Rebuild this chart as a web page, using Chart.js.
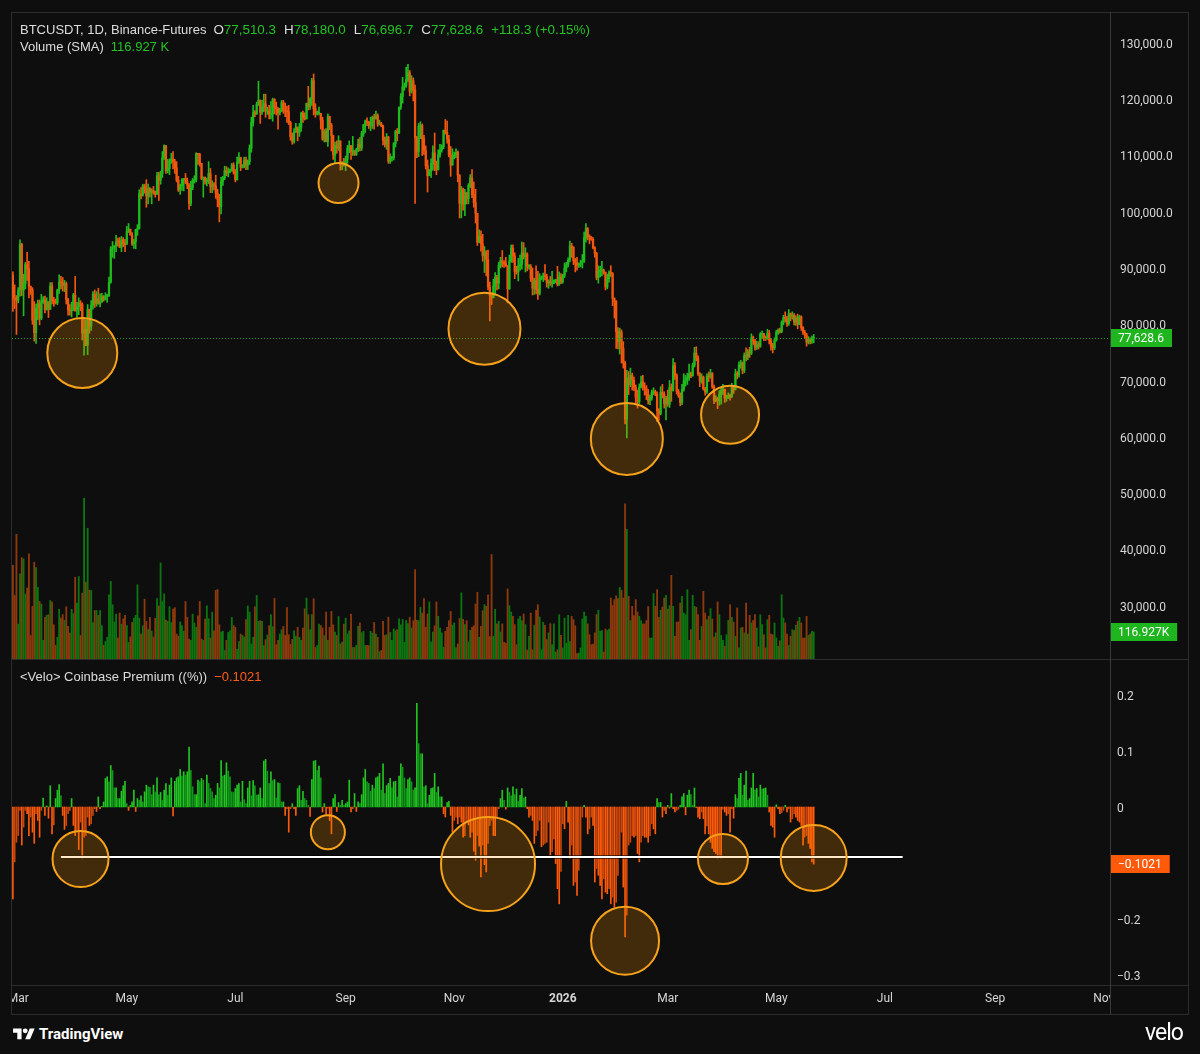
<!DOCTYPE html>
<html><head><meta charset="utf-8">
<script src="https://cdn.jsdelivr.net/npm/chart.js@4.4.1/dist/chart.umd.min.js"></script>
<style>
html,body{margin:0;padding:0;background:#0e0e0e;width:1200px;height:1054px;overflow:hidden;font-family:Roboto,"Liberation Sans",sans-serif;}
canvas{position:absolute;left:0;}
#top{top:0;}
#bot{top:660px;}
.ln{position:absolute;background:#2c2c2c;}
.txt{position:absolute;white-space:nowrap;color:#dcdcdc;font-size:13px;font-family:"Liberation Sans",Roboto,sans-serif;line-height:16px;}
.v{font-size:13.4px;}
.g{color:#22c322;}
.o{color:#ff5d1a;}
.sp{display:inline-block;width:8px;}
.sp0{display:inline-block;width:7px;}
</style></head><body>
<canvas id="top" width="1200" height="660"></canvas>
<canvas id="bot" width="1200" height="354"></canvas>
<div class="ln" style="left:0;top:0;width:11px;height:1054px;background:#0e0e0e"></div>
<div class="ln" style="left:11px;top:12px;width:1px;height:1003px"></div>
<div class="ln" style="left:11px;top:12px;width:1178px;height:1px"></div>
<div class="ln" style="left:11px;top:659px;width:1178px;height:1px"></div>
<div class="ln" style="left:11px;top:985px;width:1178px;height:1px"></div>
<div class="ln" style="left:11px;top:1014px;width:1178px;height:1px"></div>
<div class="ln" style="left:1111px;top:986px;width:78px;height:28px;background:#0e0e0e"></div>
<div class="ln" style="left:1110px;top:12px;width:1px;height:1003px;background:#3a3a3a"></div>
<div class="ln" style="left:1188px;top:12px;width:1px;height:1003px"></div>
<div class="txt" style="left:20px;top:22px"><span>BTCUSDT, 1D, Binance-Futures</span><span class="sp0"></span><span class="v" id="ohlc"></span></div>
<div class="txt" style="left:20px;top:39px">Volume (SMA)<span class="sp0"></span><span class="g" id="volv"></span></div>
<div class="txt" style="left:20px;top:669px">&lt;Velo&gt; Coinbase Premium ((%))<span class="sp0"></span><span class="o" id="premv"></span></div>
<div style="position:absolute;left:13px;top:1025px;display:flex;align-items:center;color:#fff;font:bold 15px Roboto,'Liberation Sans',sans-serif;">
<svg width="22" height="17" viewBox="0 0 36 28" style="margin-right:4px"><path d="M14 22H7V11H0V4h14v18zM28 22h-8l7.5-18h8L28 22z" fill="#fff"/><circle cx="20" cy="8" r="4" fill="#fff"/></svg>TradingView</div>
<div style="position:absolute;left:1145px;top:1019px;color:#fff;font:23px Roboto,'Liberation Sans',sans-serif;letter-spacing:-1px;">velo</div>
<script>
// ===== DATA =====
const startDate = '2025-02-26';      // first candle
const endAxisDate = '2026-11-04';    // last slot on the time axis
const monthNames = ['Jan','Feb','Mar','Apr','May','Jun','Jul','Aug','Sep','Oct','Nov','Dec'];
const firstOpen = 88.7;              // open of first candle (k USDT)

// daily closes (thousands of USDT)
const closes = [
84.7,84.4,84.3,
86.0,94.2,86.1,87.2,90.6,89.9,86.7,86.1,80.7,78.5,82.9,83.7,81.1,84.0,84.3,82.6,84.0,82.7,86.8,84.2,84.0,83.8,86.1,87.5,87.4,86.9,87.2,84.4,82.6,82.4,82.5,
85.2,82.5,83.1,83.8,83.5,78.4,79.1,76.3,82.6,79.6,83.4,85.3,83.7,84.5,83.6,84.0,84.9,84.4,85.0,85.0,87.5,93.4,93.7,93.9,94.7,94.6,93.7,95.0,94.3,94.2,
96.5,96.9,95.9,94.3,94.7,96.8,97.0,103.2,102.9,104.6,104.1,102.8,104.1,103.5,103.7,103.5,103.1,106.4,105.6,106.8,109.6,111.7,107.3,107.7,109.0,109.4,108.9,107.8,105.6,103.9,104.6,
105.7,105.9,105.4,104.7,101.5,104.3,105.6,105.7,110.3,110.2,108.6,105.9,106.0,105.4,105.5,106.8,104.5,104.8,104.6,103.3,102.2,100.9,105.4,106.0,107.3,106.9,107.1,107.3,108.3,107.1,
105.7,108.8,109.6,107.9,108.2,109.2,108.3,108.9,111.3,115.9,117.6,117.4,119.1,119.8,117.7,118.6,119.2,117.9,117.9,117.3,117.4,120.0,118.7,118.3,117.6,117.9,119.4,118.0,117.9,117.8,115.8,
113.3,112.5,114.2,115.0,114.1,115.0,117.5,116.6,116.5,119.3,118.7,120.1,123.3,118.3,117.4,117.5,117.5,116.3,112.9,114.3,112.5,116.9,115.4,113.5,110.1,111.8,111.3,112.6,108.4,108.8,108.3,
109.3,111.3,111.7,110.7,110.7,110.2,111.1,112.0,111.4,113.9,115.5,116.1,115.9,115.3,115.4,116.8,116.5,117.1,115.6,115.7,115.3,112.7,112.0,113.3,109.0,109.6,109.6,112.1,114.3,114.0,
118.6,120.5,122.2,122.4,123.5,124.7,121.4,123.3,121.7,113.2,110.7,115.2,115.3,113.0,110.8,108.2,106.4,107.2,108.6,110.5,108.4,107.5,110.1,111.0,111.6,114.5,114.1,112.9,110.1,108.3,109.6,
110.1,110.6,106.5,101.5,103.9,101.3,103.4,102.3,104.7,106.0,103.0,101.6,99.7,94.6,95.6,94.3,92.2,92.9,91.5,86.6,85.1,84.7,86.8,88.3,87.3,90.5,91.3,90.9,90.8,90.4,
86.3,91.3,93.5,92.1,89.4,89.3,90.4,90.6,92.7,92.0,92.5,90.3,90.3,88.2,86.4,87.8,86.2,85.5,88.2,88.3,88.6,88.5,87.4,87.6,87.3,87.3,87.8,87.8,87.1,88.4,87.6,
88.7,90.0,90.6,91.4,93.9,93.7,91.3,90.9,90.5,90.6,90.9,91.2,95.4,97.0,95.6,95.5,95.1,93.6,92.6,88.3,89.4,89.5,89.6,89.2,86.6,88.1,89.2,89.0,84.6,84.1,78.7,
76.9,78.6,75.7,73.1,63.1,70.5,69.3,70.9,70.1,68.8,67.0,66.2,68.8,69.8,68.8,68.6,67.5,66.4,66.9,67.9,68.0,67.6,64.6,64.1,67.9,67.5,65.9,66.9,
65.8,68.8,68.3,72.6,70.9,68.1,67.3,66.1,68.4,69.9,70.2,70.5,71.2,70.8,72.7,74.9,74.0,71.2,69.9,70.6,68.5,68.0,70.8,70.6,71.3,68.9,66.4,66.8,66.4,67.6,68.2,
68.4,66.9,66.9,67.3,67.1,68.8,68.4,71.2,71.0,72.8,73.1,71.8,74.4,74.2,75.1,74.9,77.6,77.0,75.9,76.4,76.1,78.2,78.3,77.6,77.5,78.4,77.1,76.1,75.8,77.2,
78.6,78.9,78.7,80.3,81.2,81.0,80.1,81.9,81.3,81.6,80.4,81.1,80.0,81.3,79.4,78.6,78.1,76.8,77.2,77.0,77.5103,77.6286
];
const highs = [
89.3,87.0,85.1,
86.5,95.0,94.4,88.9,91.0,92.8,91.2,86.8,86.5,84.0,83.6,84.3,84.3,85.3,84.9,85.0,84.7,84.0,87.4,87.4,84.8,84.5,86.2,88.8,88.5,88.3,87.8,87.5,84.6,83.5,83.9,
85.5,88.5,83.9,84.7,84.2,83.8,81.2,80.8,83.5,82.7,84.2,85.8,86.1,85.8,86.4,85.4,85.5,85.1,85.6,85.3,88.4,93.8,94.7,94.0,95.8,95.3,95.4,95.6,95.4,95.1,
97.4,97.9,96.9,96.3,95.1,96.9,97.7,103.9,104.3,104.9,104.9,105.7,104.9,104.3,104.1,104.5,103.7,107.0,107.0,107.2,110.7,111.9,111.8,109.3,109.4,110.4,110.7,109.3,108.9,106.3,104.9,
105.9,105.9,106.8,106.0,105.0,105.4,105.9,106.4,110.5,110.4,110.4,108.6,106.2,106.2,106.0,108.9,107.7,105.5,105.2,106.5,104.0,103.1,106.1,106.3,108.1,108.0,107.8,107.6,108.6,108.7,
107.5,109.7,110.5,109.7,108.4,109.7,109.7,109.2,111.9,116.8,118.9,118.0,119.5,123.2,119.9,119.8,120.9,120.9,118.6,118.9,119.6,120.2,120.1,119.5,118.5,118.4,119.8,119.8,119.3,118.8,118.9,
116.1,114.0,114.8,115.7,115.1,115.7,117.7,117.9,117.6,119.3,122.3,120.3,123.7,124.5,119.2,117.9,118.6,117.5,116.8,114.6,114.8,117.4,117.0,115.7,113.6,112.4,112.6,113.5,112.6,108.9,109.5,
109.9,111.8,112.6,111.8,113.4,110.9,111.3,112.9,113.2,114.3,115.5,116.3,116.7,116.1,116.8,117.0,117.3,117.9,117.4,116.3,115.9,115.4,113.3,113.9,113.4,110.3,109.8,112.3,114.5,114.8,
118.6,121.0,123.9,122.9,125.7,126.2,125.1,124.2,123.8,122.5,113.4,115.7,116.0,115.6,113.6,111.7,109.2,107.5,109.4,111.7,114.0,109.0,111.0,112.0,111.9,114.5,116.4,116.1,113.6,111.6,111.2,
110.6,111.2,110.8,106.6,104.5,104.2,104.0,103.4,105.0,106.6,107.5,105.3,104.0,99.7,96.8,96.6,96.0,93.8,93.1,93.2,87.5,85.6,88.0,89.2,88.7,91.0,91.9,93.1,91.3,91.9,
90.4,92.3,94.1,94.1,92.7,90.3,91.7,92.3,94.6,94.5,93.6,92.7,90.6,90.6,90.0,88.2,90.4,89.4,89.0,88.6,89.1,90.6,88.9,87.9,88.5,89.4,87.9,88.0,90.3,89.3,89.0,
88.9,90.9,91.0,91.8,94.8,94.4,93.8,91.7,91.9,90.9,91.4,92.4,96.4,97.9,97.2,95.9,95.6,95.4,93.8,92.8,90.4,90.3,91.2,89.8,89.3,88.9,89.5,90.4,89.2,84.7,84.2,
79.4,79.3,79.0,76.9,73.4,71.8,71.6,72.2,71.3,70.6,69.2,68.3,69.4,70.8,70.9,69.6,69.1,68.4,67.4,68.3,68.7,68.3,68.0,65.0,68.9,69.3,68.0,67.2,
68.3,70.0,69.4,73.9,73.2,71.2,68.4,67.8,69.3,71.2,70.9,71.3,72.9,71.5,73.1,75.9,76.0,74.4,71.4,71.2,70.8,68.8,71.2,71.5,72.0,71.4,69.2,67.3,67.0,68.2,68.6,
69.3,68.5,67.4,67.8,67.6,69.5,69.0,72.0,71.6,73.3,73.6,73.3,74.9,75.8,75.5,75.9,78.3,77.9,77.3,77.0,76.9,78.5,78.8,78.4,77.9,79.1,78.9,77.5,76.6,77.6,
78.9,79.2,79.3,80.6,81.6,82.2,81.4,82.6,82.0,82.2,81.9,81.5,81.8,81.6,81.5,79.6,78.9,78.4,77.8,77.6,77.9,78.18
];
const lows = [
82.3,82.8,78.2,
83.8,85.0,85.1,81.5,86.3,87.8,84.7,85.3,80.0,77.0,76.6,80.8,79.9,80.8,83.7,82.0,82.5,81.2,82.6,83.6,83.2,83.6,83.5,85.5,86.3,85.9,85.8,83.6,81.6,81.6,81.3,
82.4,82.3,81.2,81.7,82.4,77.2,74.5,76.2,74.6,78.4,78.9,82.7,83.0,83.2,83.6,83.1,83.9,84.1,84.3,83.9,85.1,87.3,91.9,91.7,92.9,93.9,93.6,92.9,93.8,92.9,
94.2,96.3,95.8,94.0,93.5,93.4,95.8,96.9,102.3,102.8,103.3,100.8,101.4,102.6,101.4,103.1,102.6,103.1,102.0,104.9,106.1,109.3,106.8,106.9,106.6,108.6,107.6,106.8,105.3,103.6,103.1,
103.8,103.7,105.0,104.1,100.4,101.1,103.9,105.1,105.3,108.4,108.1,105.7,102.6,104.9,104.6,105.0,103.4,103.4,103.9,102.4,100.9,98.2,99.6,104.7,105.7,106.4,106.2,106.9,107.2,106.7,
105.3,105.6,108.6,107.3,107.8,107.8,107.5,107.5,108.4,110.6,115.2,116.9,117.3,118.9,115.7,117.3,117.8,116.8,117.3,116.5,116.5,116.1,117.4,117.2,114.7,117.2,117.8,117.5,116.9,115.9,115.5,
112.7,112.0,112.2,114.1,112.6,113.4,114.3,115.9,116.3,116.5,118.1,118.2,118.9,117.2,116.8,117.2,117.2,114.7,112.7,112.4,112.4,111.6,114.6,110.8,109.3,108.7,110.4,110.9,107.4,107.5,108.1,
107.3,108.6,110.5,109.3,110.0,110.0,110.0,110.7,110.8,110.9,113.4,114.1,115.3,114.8,114.4,114.8,114.7,116.5,115.2,115.4,115.1,111.9,111.5,111.1,108.6,108.6,109.0,109.2,111.5,112.6,
113.9,118.2,119.3,121.6,122.1,123.1,120.6,121.1,119.7,101.5,109.6,109.8,113.0,110.0,110.2,107.6,103.5,106.4,106.1,107.4,107.3,106.6,107.4,109.7,110.6,111.2,113.8,112.2,109.8,106.3,108.7,
109.4,109.6,105.3,98.9,98.9,100.3,99.3,101.4,101.4,104.3,102.5,100.8,98.0,94.0,94.5,93.0,91.2,89.2,88.6,86.1,80.6,83.5,84.7,85.2,86.1,86.3,90.0,90.2,90.1,90.3,
83.8,86.2,91.0,91.0,88.1,88.9,87.7,89.6,89.8,91.6,89.3,89.5,89.8,87.6,85.2,85.3,85.4,84.4,85.2,87.9,87.6,87.9,86.6,86.4,86.9,86.6,87.2,87.4,86.8,86.9,87.2,
87.3,88.3,89.3,90.2,91.1,91.9,90.6,89.3,89.6,90.1,90.2,90.0,91.0,94.6,95.0,94.3,94.9,93.4,91.9,87.9,87.3,88.4,88.6,88.9,86.1,86.3,87.5,88.5,83.3,81.1,75.7,
75.6,74.7,73.1,72.2,62.3,59.8,67.5,68.9,68.3,68.2,65.8,65.1,65.9,68.7,68.3,67.4,66.6,65.8,65.7,66.5,67.5,67.3,62.7,62.9,63.9,66.9,65.1,63.0,
65.4,65.2,66.3,68.1,70.2,67.6,67.0,65.5,65.7,68.1,69.0,69.3,70.0,70.5,70.9,72.4,73.5,70.9,68.9,69.5,68.3,67.4,67.7,69.8,70.4,68.6,65.9,66.2,65.0,65.6,65.8,
67.5,66.1,66.3,66.8,66.5,67.0,67.7,68.3,70.3,70.6,72.2,71.2,71.4,73.5,73.7,74.1,74.6,76.4,75.4,75.5,75.6,75.9,77.5,77.1,77.1,77.3,76.5,75.4,74.9,75.5,
77.0,78.2,78.4,78.5,79.9,80.4,79.6,79.8,80.6,80.9,79.9,79.8,79.2,79.9,78.9,78.2,77.5,76.1,76.5,76.5,76.6,76.6967
];
// daily volume (thousand BTC)
const volumes = [
405,275,540,151,369,439,433,281,307,455,102,228,419,396,310,249,238,81,180,189,
192,253,246,148,59,94,215,177,192,168,226,141,112,215,197,353,242,357,102,285,
696,333,566,298,297,158,210,210,189,210,144,59,76,94,278,336,235,160,194,
91,199,151,174,189,145,72,96,158,177,189,321,177,108,144,259,163,128,180,121,
95,176,261,230,416,249,282,168,163,226,158,216,222,108,99,160,145,120,249,
180,86,81,194,156,137,187,249,86,81,173,230,174,91,203,122,297,301,148,
117,120,37,81,115,122,180,145,137,42,76,108,102,96,171,230,203,65,94,226,
275,163,166,163,58,84,104,144,192,140,262,62,81,108,127,141,102,223,105,
63,85,122,99,137,94,81,134,217,264,192,127,192,261,50,58,151,145,134,
101,203,81,137,206,148,117,102,184,65,73,151,177,108,122,194,50,50,59,
141,156,114,120,59,59,58,120,112,158,108,94,32,37,163,102,105,181,115,
81,130,122,127,174,148,171,72,167,153,181,134,166,387,168,
166,224,199,261,137,195,247,74,117,144,247,185,134,113,51,120,137,166,206,
146,156,48,65,175,286,172,149,166,74,124,137,144,238,289,94,141,209,235,
228,278,97,452,98,215,152,163,117,152,72,68,303,231,203,185,149,62,
173,185,166,195,149,39,98,199,40,146,211,235,182,40,159,146,84,113,
153,62,152,30,40,192,102,48,177,69,189,76,185,170,144,23,26,48,173,
203,185,152,105,62,65,113,192,211,120,123,30,130,123,130,264,232,257,274,
261,310,297,264,672,561,271,166,228,188,257,203,185,166,152,152,167,227,
91,91,283,228,300,180,211,225,264,276,216,231,362,228,98,160,160,242,271,
199,192,300,81,127,276,228,224,192,81,141,293,199,170,185,218,173,95,113,
247,192,102,81,55,105,167,235,180,160,98,221,48,134,137,113,242,108,
189,156,167,192,134,53,192,149,105,48,170,189,108,105,156,91,55,79,278,
177,156,108,59,98,127,123,146,163,180,156,91,91,185,102,108,120,116.927
];
// Coinbase premium (%)
const premium = [
-0.164,-0.098,-0.063,-0.051,-0.006,-0.068,-0.036,-0.006,-0.012,-0.051,
-0.018,-0.045,-0.065,-0.012,-0.024,-0.054,-0.006,0.016,-0.015,0.002,
-0.020,0.038,-0.048,-0.032,0.015,0.030,0.040,0.020,-0.015,-0.040,
-0.033,-0.012,-0.006,0.015,-0.033,-0.051,-0.042,-0.076,-0.027,-0.092,
-0.054,-0.051,-0.018,-0.033,-0.030,-0.015,-0.003,-0.008,0.018,-0.003,
0.001,0.009,0.051,0.054,0.045,0.074,0.065,0.034,0.034,0.015,
0.015,0.028,0.038,0.046,0.006,-0.006,0.003,0.009,0.030,-0.008,
0.015,0.012,0.020,0.009,0.027,0.039,0.036,0.035,0.022,0.039,
0.027,0.052,0.022,0.026,0.012,0.030,0.042,0.021,0.039,0.052,
-0.016,0.046,0.052,0.054,0.067,0.055,0.063,0.057,0.063,0.107,
0.065,0.036,0.022,0.022,0.048,0.045,0.051,0.048,0.006,0.057,
0.042,0.033,0.027,0.015,0.021,
0.042,0.034,0.083,0.055,0.057,0.079,0.064,0.054,0.027,0.026,
0.033,0.039,0.042,0.009,0.046,0.013,0.006,0.034,0.046,0.020,
0.047,0.038,0.021,0.022,0.034,0.015,0.082,0.085,0.064,0.042,
0.063,0.047,0.049,0.016,0.043,0.042,0.009,0.009,-0.015,-0.003,
-0.045,-0.003,0.006,-0.003,-0.015,0.033,0.038,0.012,0.028,0.015,
0.012,0.003,-0.017,0.049,0.082,0.083,0.065,0.073,0.052,-0.009,
0.006,-0.014,-0.002,-0.024,-0.048,0.015,0.022,-0.008,0.008,0.003,
0.012,0.003,0.006,0.009,0.048,-0.009,-0.003,0.024,-0.008,0.009,
0.006,0.022,0.052,0.067,0.045,0.042,0.028,0.039,0.033,0.052,
0.054,0.060,0.030,0.077,0.024,0.038,0.042,0.051,0.034,0.045,
0.046,0.018,0.055,0.077,0.071,0.052,0.033,0.049,0.052,0.045,
0.030,0.034,0.185,0.113,
0.095,0.095,0.036,0.038,0.006,0.021,0.033,0.034,0.060,0.026,
0.036,0.018,0.018,-0.012,-0.018,0.008,0.010,-0.015,-0.045,-0.024,
-0.018,-0.030,-0.018,-0.027,-0.054,-0.051,-0.026,-0.032,-0.054,-0.045,
-0.079,-0.095,-0.051,-0.070,-0.125,-0.068,-0.103,-0.116,-0.065,-0.033,
-0.024,-0.051,-0.051,-0.018,-0.003,0.015,0.030,0.012,-0.004,0.034,
0.026,0.020,0.036,0.022,0.032,0.010,0.021,0.033,0.016,0.018,
-0.003,-0.018,-0.015,-0.024,-0.065,-0.051,-0.042,-0.024,-0.071,-0.068,
-0.065,-0.063,-0.027,-0.086,-0.080,-0.057,-0.101,-0.146,-0.173,-0.115,
-0.030,-0.039,0.010,-0.027,-0.092,-0.068,-0.140,-0.134,-0.158,-0.113,
-0.089,-0.018,0.003,-0.018,-0.048,-0.039,-0.018,-0.033,-0.134,-0.110,
-0.122,-0.140,-0.164,-0.128,-0.152,-0.155,-0.146,-0.173,-0.161,-0.179,
-0.170,-0.122,-0.090,
-0.045,-0.143,-0.232,-0.193,-0.068,-0.063,-0.051,-0.054,-0.051,-0.083,
-0.098,-0.063,-0.051,-0.054,-0.054,-0.063,-0.051,-0.030,-0.039,-0.048,
0.015,0.008,0.008,-0.018,-0.006,-0.012,0.003,-0.002,0.024,-0.003,
-0.009,-0.006,-0.004,0.003,0.018,0.024,-0.014,0.021,0.030,0.022,
0.003,0.034,-0.001,-0.018,-0.021,-0.009,-0.021,-0.048,-0.034,-0.048,
-0.063,-0.074,-0.080,-0.083,-0.092,-0.089,-0.092,-0.004,-0.009,-0.015,
-0.012,-0.045,-0.003,-0.020,0.022,0.015,0.051,0.060,0.021,0.039,
0.064,0.012,0.015,0.034,0.060,0.030,0.033,0.018,0.039,0.032,
0.033,0.034,0.021,-0.009,-0.033,-0.036,-0.054,0.004,-0.003,-0.012,
-0.010,-0.006,0.003,-0.009,-0.003,-0.027,-0.021,-0.012,-0.018,-0.024,
-0.027,-0.033,-0.068,-0.054,-0.051,-0.065,-0.074,-0.098,-0.1021
];
// axis ticks
const priceTicks = [30,40,50,60,70,80,90,100,110,120,130];
const premiumTicks = [0.2,0.1,0,-0.1,-0.2,-0.3];
// annotations drawn on the chart (date, value, radius in px)
const priceCircles = [
  {date:'2025-04-06', value:74.9, r:35},
  {date:'2025-08-28', value:105.1, r:20},
  {date:'2025-11-18', value:79.2, r:36},
  {date:'2026-02-06', value:59.6, r:36},
  {date:'2026-04-05', value:63.9, r:29}
];
const premiumCircles = [
  {date:'2025-04-05', value:-0.093, r:28},
  {date:'2025-08-22', value:-0.045, r:17},
  {date:'2025-11-20', value:-0.102, r:47},
  {date:'2026-02-05', value:-0.239, r:34},
  {date:'2026-04-01', value:-0.093, r:25},
  {date:'2026-05-22', value:-0.091, r:33}
];
const premiumLevel = {from:'2025-03-25', to:'2026-07-11', value:-0.0893};

// ===== BUILD =====
const labels = [];
{
  const d = new Date(startDate + 'T00:00:00Z');
  const e = new Date(endAxisDate + 'T00:00:00Z');
  while (d <= e) { labels.push(d.toISOString().slice(0,10)); d.setUTCDate(d.getUTCDate()+1); }
}
const idxOf = {}; labels.forEach((l,i)=>idxOf[l]=i);
const N = closes.length;
const opens = closes.map((c,i)=> i===0 ? firstOpen : closes[i-1]);
const UP='#1fbb1f', DN='#f2570f', VUP='#0c7410', VDN='#8c390d';
const bodyData = [], wickData = [], candleCol = [], volCol = [];
for (let i=0;i<N;i++){
  const o=opens[i], c=closes[i];
  const h=Math.max(highs[i],o,c), l=Math.min(lows[i],o,c);
  bodyData.push([o,c]); wickData.push([l,h]);
  const up = c>=o;
  candleCol.push(up?UP:DN); volCol.push(up?VUP:VDN);
}
const premCol = premium.map((v,i)=>{
  const p = i>0?premium[i-1]:0;
  if (v>=0) return v>=p ? '#22c522' : '#12961a';
  return v<=p ? '#ff5a0a' : '#c7470f';
});

const fmtPrice = v => (v*1000).toLocaleString('en-US',{minimumFractionDigits:1,maximumFractionDigits:1});
const minus = s => String(s).replace('-','\u2212');
const FONT = 'Roboto, "Liberation Sans", sans-serif';
const TXT = '#d6d6d6';

// header values
{
  const L=N-1, o=opens[L], c=closes[L];
  const ch=(c-o)*1000, pct=(c-o)/o*100;
  const sp='<span class="sp"></span>';
  document.getElementById('ohlc').innerHTML =
    'O<span class="g">'+fmtPrice(o)+'</span>'+sp+'H<span class="g">'+fmtPrice(highs[L])+'</span>'+sp+
    'L<span class="g">'+fmtPrice(lows[L])+'</span>'+sp+'C<span class="g">'+fmtPrice(c)+'</span>'+sp+
    '<span class="g">'+(ch>=0?'+':'')+ch.toFixed(1)+' ('+(pct>=0?'+':'')+pct.toFixed(2)+'%)</span>';
  document.getElementById('volv').textContent = volumes[L].toFixed(3)+' K';
  document.getElementById('premv').textContent = minus(premium[premium.length-1]);
}

const overlay = {
  id:'overlay',
  afterDatasetsDraw(chart, args, o){
    const ctx=chart.ctx, a=chart.chartArea, xs=chart.scales.x, ys=chart.scales[o.y];
    ctx.save();
    ctx.beginPath(); ctx.rect(a.left,a.top,a.right-a.left,a.bottom-a.top); ctx.clip();
    if (o.dotted){
      const y=Math.round(ys.getPixelForValue(o.dotted.value))+0.5;
      ctx.strokeStyle=o.dotted.color; ctx.lineWidth=1; ctx.setLineDash([1,2]);
      ctx.beginPath(); ctx.moveTo(a.left,y); ctx.lineTo(a.right,y); ctx.stroke(); ctx.setLineDash([]);
    }
    if (o.level){
      const y=ys.getPixelForValue(o.level.value);
      const x1=xs.getPixelForValue(idxOf[o.level.from]), x2=xs.getPixelForValue(idxOf[o.level.to]);
      ctx.strokeStyle='rgba(0,0,0,0.6)'; ctx.lineWidth=4;
      ctx.beginPath(); ctx.moveTo(x1,y); ctx.lineTo(x2,y); ctx.stroke();
      ctx.strokeStyle='#ffffff'; ctx.lineWidth=2;
      ctx.beginPath(); ctx.moveTo(x1,y); ctx.lineTo(x2,y); ctx.stroke();
    }
    (o.circles||[]).forEach(c=>{
      const x=xs.getPixelForValue(idxOf[c.date]), y=ys.getPixelForValue(c.value);
      ctx.beginPath(); ctx.arc(x,y,c.r,0,Math.PI*2);
      ctx.fillStyle='rgba(255,150,0,0.21)'; ctx.fill();
      ctx.lineWidth=2; ctx.strokeStyle='#f7a21b'; ctx.stroke();
    });
    ctx.restore();
    (o.tags||[]).forEach(t=>{
      const y=Math.round(chart.scales[t.y].getPixelForValue(t.value));
      ctx.save();
      ctx.font='12px '+FONT;
      const w=ctx.measureText(t.text).width+16;
      ctx.fillStyle=t.bg; ctx.fillRect(a.right,y-9,w,18);
      ctx.fillStyle='#ffffff'; ctx.textBaseline='middle'; ctx.textAlign='left';
      ctx.fillText(t.text,a.right+8,y+1);
      ctx.restore();
    });
  }
};

Chart.defaults.font.family = FONT;
Chart.defaults.animation = false;

// remove the label-driven padding so the plot area fills each pane exactly
const noPad = s => { s.paddingTop=0; s.paddingBottom=0; s.paddingLeft=0; s.paddingRight=0; };
const xBase = {type:'category', labels, offset:true, grid:{display:false}, border:{display:false}};

new Chart(document.getElementById('top'), {
  type:'bar',
  data:{ labels, datasets:[
    {data:volumes, yAxisID:'yv', backgroundColor:volCol, barThickness:1.2, grouped:false, order:3},
    {data:wickData, yAxisID:'y', backgroundColor:candleCol, barThickness:1, grouped:false, order:2},
    {data:bodyData, yAxisID:'y', backgroundColor:candleCol, barThickness:1.6, minBarLength:1, grouped:false, order:1}
  ]},
  options:{
    responsive:false, devicePixelRatio:1, animation:false,
    layout:{padding:{left:12,top:12,bottom:1,right:0}},
    plugins:{legend:{display:false}, tooltip:{enabled:false},
      overlay:{y:'y', dotted:{value:closes[N-1], color:'#1e9e1e'}, circles:priceCircles,
        tags:[{y:'y', value:closes[N-1], text:fmtPrice(closes[N-1]), bg:'#1fb51f'},
              {y:'yv', value:volumes[N-1], text:volumes[N-1].toFixed(3)+'K', bg:'#1fb51f'}]}},
    scales:{
      x:Object.assign({}, xBase, {display:false}),
      y:{position:'right', min:20.49, max:135.51, grid:{display:false, drawTicks:false}, border:{display:false},
        afterBuildTicks:s=>{s.ticks=priceTicks.map(v=>({value:v}));},
        afterFit:s=>{s.width=90; noPad(s);},
        ticks:{padding:10, labelOffset:2, color:TXT, font:{size:12}, callback:v=>fmtPrice(v)}},
      yv:{display:false, min:0, max:2800, afterFit:noPad}
    }
  },
  plugins:[overlay]
});

new Chart(document.getElementById('bot'), {
  type:'bar',
  data:{ labels, datasets:[
    {data:premium, yAxisID:'y', backgroundColor:premCol, barThickness:1, grouped:false}
  ]},
  options:{
    responsive:false, devicePixelRatio:1, animation:false,
    layout:{padding:{left:12,top:0,bottom:0,right:0}},
    plugins:{legend:{display:false}, tooltip:{enabled:false},
      overlay:{y:'y', level:premiumLevel, circles:premiumCircles,
        tags:[{y:'y', value:premium[premium.length-1], text:minus(premium[premium.length-1]), bg:'#ff5a0a'}]}},
    scales:{
      x:Object.assign({}, xBase, {
        position:'bottom',
        afterFit:s=>{s.height=29; noPad(s);},
        grid:{display:false, drawTicks:false},
        ticks:{autoSkip:false, maxRotation:0, minRotation:0, padding:7, color:TXT,
          font:ctx=>({size:12, family:FONT, weight:(ctx.tick && ctx.tick.label==='2026')?'bold':'normal'}),
          callback:(v,i)=>{
            const s=labels[i]; if(!s) return '';
            const m=+s.slice(5,7)-1, d=+s.slice(8,10);
            if (d!==1 || m%2!==0) return '';
            return m===0 ? s.slice(0,4) : monthNames[m];
          }}
      }),
      y:{position:'right', min:-0.3179, max:0.2625, grid:{display:false, drawTicks:false}, border:{display:false},
        afterBuildTicks:s=>{s.ticks=premiumTicks.map(v=>({value:v}));},
        afterFit:s=>{s.width=90; noPad(s);},
        ticks:{padding:7, labelOffset:2, color:TXT, font:{size:12}, callback:v=>minus(v)}}
    }
  },
  plugins:[overlay]
});

const lens = {closes:closes.length, highs:highs.length, lows:lows.length, volumes:volumes.length, premium:premium.length};
for (const k in lens) if (lens[k]!==451) throw new Error('length mismatch '+JSON.stringify(lens));
</script>
</body></html>
